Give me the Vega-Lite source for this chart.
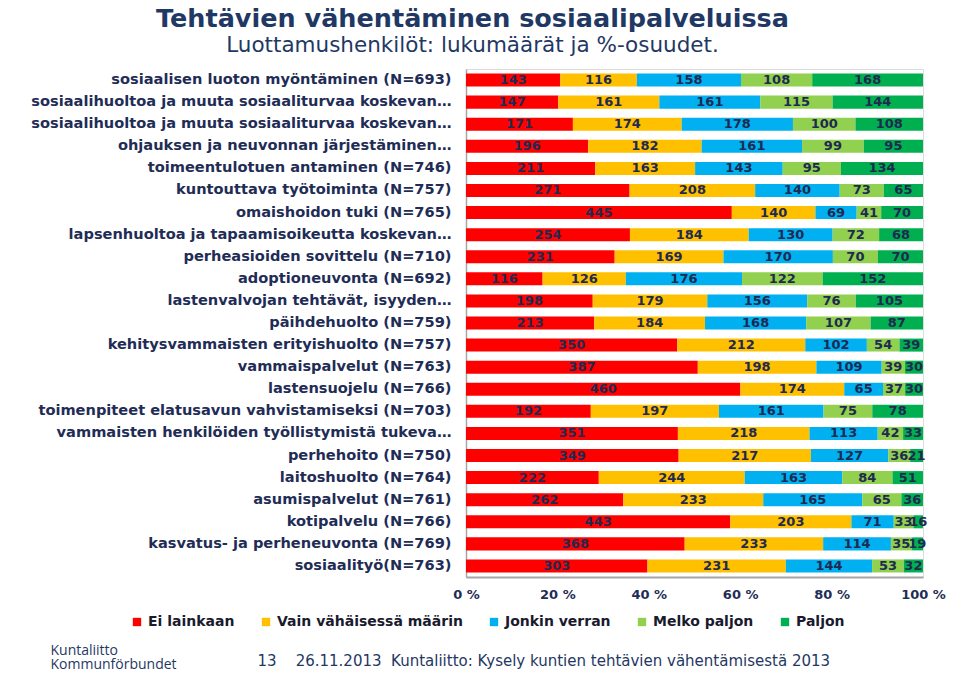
{
  "$schema": "https://vega.github.io/schema/vega-lite/v6.json",
  "autosize": "none",
  "width": 457,
  "height": 508,
  "padding": {"left": 466, "top": 69, "right": 37, "bottom": 116},
  "background": "white",
  "title": {
    "text": "Tehtävien vähentäminen sosiaalipalveluissa",
    "subtitle": "Luottamushenkilöt: lukumäärät ja %-osuudet.",
    "anchor": "middle",
    "frame": "group",
    "dx": -222,
    "offset": 13,
    "font": "DejaVu Sans",
    "fontSize": 25.5,
    "fontWeight": "bold",
    "color": "#1F3864",
    "subtitleFont": "DejaVu Sans",
    "subtitleFontSize": 21.5,
    "subtitleFontWeight": "normal",
    "subtitleColor": "#1F3864",
    "subtitlePadding": 2
  },
  "datasets": {
    "rows": [
      {"t": "sosiaalisen luoton myöntäminen (N=693)", "Ei lainkaan": 143, "Vain vähäisessä määrin": 116, "Jonkin verran": 158, "Melko paljon": 108, "Paljon": 168},
      {"t": "sosiaalihuoltoa ja muuta sosiaaliturvaa koskevan…", "Ei lainkaan": 147, "Vain vähäisessä määrin": 161, "Jonkin verran": 161, "Melko paljon": 115, "Paljon": 144},
      {"t": "sosiaalihuoltoa ja muuta sosiaaliturvaa koskevan…\u200b", "Ei lainkaan": 171, "Vain vähäisessä määrin": 174, "Jonkin verran": 178, "Melko paljon": 100, "Paljon": 108},
      {"t": "ohjauksen ja neuvonnan järjestäminen…", "Ei lainkaan": 196, "Vain vähäisessä määrin": 182, "Jonkin verran": 161, "Melko paljon": 99, "Paljon": 95},
      {"t": "toimeentulotuen antaminen (N=746)", "Ei lainkaan": 211, "Vain vähäisessä määrin": 163, "Jonkin verran": 143, "Melko paljon": 95, "Paljon": 134},
      {"t": "kuntouttava työtoiminta (N=757)", "Ei lainkaan": 271, "Vain vähäisessä määrin": 208, "Jonkin verran": 140, "Melko paljon": 73, "Paljon": 65},
      {"t": "omaishoidon tuki (N=765)", "Ei lainkaan": 445, "Vain vähäisessä määrin": 140, "Jonkin verran": 69, "Melko paljon": 41, "Paljon": 70},
      {"t": "lapsenhuoltoa ja tapaamisoikeutta koskevan…", "Ei lainkaan": 254, "Vain vähäisessä määrin": 184, "Jonkin verran": 130, "Melko paljon": 72, "Paljon": 68},
      {"t": "perheasioiden sovittelu (N=710)", "Ei lainkaan": 231, "Vain vähäisessä määrin": 169, "Jonkin verran": 170, "Melko paljon": 70, "Paljon": 70},
      {"t": "adoptioneuvonta (N=692)", "Ei lainkaan": 116, "Vain vähäisessä määrin": 126, "Jonkin verran": 176, "Melko paljon": 122, "Paljon": 152},
      {"t": "lastenvalvojan tehtävät, isyyden…", "Ei lainkaan": 198, "Vain vähäisessä määrin": 179, "Jonkin verran": 156, "Melko paljon": 76, "Paljon": 105},
      {"t": "päihdehuolto (N=759)", "Ei lainkaan": 213, "Vain vähäisessä määrin": 184, "Jonkin verran": 168, "Melko paljon": 107, "Paljon": 87},
      {"t": "kehitysvammaisten erityishuolto (N=757)", "Ei lainkaan": 350, "Vain vähäisessä määrin": 212, "Jonkin verran": 102, "Melko paljon": 54, "Paljon": 39},
      {"t": "vammaispalvelut (N=763)", "Ei lainkaan": 387, "Vain vähäisessä määrin": 198, "Jonkin verran": 109, "Melko paljon": 39, "Paljon": 30},
      {"t": "lastensuojelu (N=766)", "Ei lainkaan": 460, "Vain vähäisessä määrin": 174, "Jonkin verran": 65, "Melko paljon": 37, "Paljon": 30},
      {"t": "toimenpiteet elatusavun vahvistamiseksi (N=703)", "Ei lainkaan": 192, "Vain vähäisessä määrin": 197, "Jonkin verran": 161, "Melko paljon": 75, "Paljon": 78},
      {"t": "vammaisten henkilöiden työllistymistä tukeva…", "Ei lainkaan": 351, "Vain vähäisessä määrin": 218, "Jonkin verran": 113, "Melko paljon": 42, "Paljon": 33},
      {"t": "perhehoito (N=750)", "Ei lainkaan": 349, "Vain vähäisessä määrin": 217, "Jonkin verran": 127, "Melko paljon": 36, "Paljon": 21},
      {"t": "laitoshuolto (N=764)", "Ei lainkaan": 222, "Vain vähäisessä määrin": 244, "Jonkin verran": 163, "Melko paljon": 84, "Paljon": 51},
      {"t": "asumispalvelut (N=761)", "Ei lainkaan": 262, "Vain vähäisessä määrin": 233, "Jonkin verran": 165, "Melko paljon": 65, "Paljon": 36},
      {"t": "kotipalvelu (N=766)", "Ei lainkaan": 443, "Vain vähäisessä määrin": 203, "Jonkin verran": 71, "Melko paljon": 33, "Paljon": 16},
      {"t": "kasvatus- ja perheneuvonta (N=769)", "Ei lainkaan": 368, "Vain vähäisessä määrin": 233, "Jonkin verran": 114, "Melko paljon": 35, "Paljon": 19},
      {"t": "sosiaalityö(N=763)", "Ei lainkaan": 303, "Vain vähäisessä määrin": 231, "Jonkin verran": 144, "Melko paljon": 53, "Paljon": 32}
    ],
    "cats": [
      {"luokka": "Ei lainkaan", "k": 1},
      {"luokka": "Vain vähäisessä määrin", "k": 2},
      {"luokka": "Jonkin verran", "k": 3},
      {"luokka": "Melko paljon", "k": 4},
      {"luokka": "Paljon", "k": 5}
    ]
  },
  "data": {"name": "rows"},
  "transform": [
    {"fold": ["Ei lainkaan", "Vain vähäisessä määrin", "Jonkin verran", "Melko paljon", "Paljon"], "as": ["luokka", "n"]},
    {"lookup": "luokka", "from": {"data": {"name": "cats"}, "key": "luokka", "fields": ["k"]}}
  ],
  "encoding": {
    "y": {
      "field": "t",
      "type": "nominal",
      "sort": null,
      "scale": {"paddingInner": 0.41, "paddingOuter": 0.205},
      "axis": {
        "title": ["Kuntaliitto", "Kommunförbundet"],
        "titleAngle": 0,
        "titleAlign": "left",
        "titleBaseline": "alphabetic",
        "titleX": -416,
        "titleY": 585,
        "titleFont": "Open Sans",
        "titleFontSize": 14,
        "titleFontWeight": "normal",
        "titleColor": "#1F3864",
        "titleLineHeight": 14,
        "labelFont": "DejaVu Sans",
        "labelFontSize": 14.6,
        "labelFontWeight": "bold",
        "labelColor": "#1F2D56",
        "labelLimit": 460,
        "labelPadding": 15,
        "ticks": false,
        "domainColor": "#A6A6A6",
        "domainWidth": 1.5
      }
    },
    "order": {"field": "k", "type": "quantitative"}
  },
  "layer": [
    {
      "mark": {"type": "bar"},
      "encoding": {
        "x": {
          "field": "n",
          "type": "quantitative",
          "stack": "normalize",
          "scale": {"domain": [0, 1], "nice": false},
          "axis": {
            "values": [0, 0.2, 0.4, 0.6, 0.8, 1],
            "labelExpr": "format(datum.value * 100, 'd') + ' %'",
            "grid": false,
            "ticks": false,
            "labelPadding": 11,
            "labelFont": "DejaVu Sans",
            "labelFontSize": 13,
            "labelFontWeight": "bold",
            "labelColor": "#1F2D56",
            "labelFlush": false,
            "domainColor": "#A6A6A6",
            "domainWidth": 2,
            "title": "13\u00a0\u00a0\u00a0\u00a026.11.2013\u00a0\u00a0Kuntaliitto: Kysely kuntien tehtävien vähentämisestä 2013",
            "titleFont": "DejaVu Sans",
            "titleFontSize": 15,
            "titleFontWeight": "normal",
            "titleColor": "#1F3864",
            "titleAnchor": "start",
            "titleAlign": "left",
            "titleBaseline": "alphabetic",
            "titleX": -209,
            "titleY": 88
          }
        },
        "color": {
          "field": "luokka",
          "type": "nominal",
          "scale": {
            "domain": ["Ei lainkaan", "Vain vähäisessä määrin", "Jonkin verran", "Melko paljon", "Paljon"],
            "range": ["#FF0000", "#FFC000", "#00B0F0", "#92D050", "#00B050"]
          },
          "legend": {
            "orient": "none",
            "direction": "horizontal",
            "legendX": -336,
            "legendY": 546,
            "title": null,
            "symbolType": "square",
            "symbolSize": 70,
            "symbolStrokeWidth": 0,
            "labelFont": "DejaVu Sans",
            "labelFontSize": 14,
            "labelFontWeight": "bold",
            "labelColor": "#1A1A2E",
            "labelOffset": 4,
            "labelLimit": 300,
            "columnPadding": 24
          }
        }
      }
    },
    {
      "mark": {"type": "text", "font": "DejaVu Sans", "fontSize": 13, "fontWeight": "bold", "color": "#1F2A50", "baseline": "middle", "align": "center"},
      "encoding": {
        "x": {
          "field": "n",
          "type": "quantitative",
          "stack": "normalize",
          "bandPosition": 0.5
        },
        "detail": {"field": "luokka"},
        "text": {"field": "n", "type": "quantitative"}
      }
    }
  ]
}
